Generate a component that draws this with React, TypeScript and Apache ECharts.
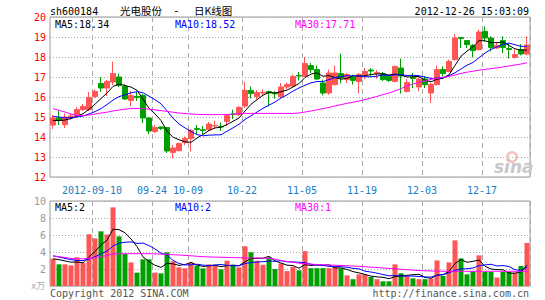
import React, { useEffect, useRef } from "react";
import * as echarts from "echarts";

const dates = [
  "2012-08-30","2012-08-31",
  "2012-09-03","2012-09-04","2012-09-05","2012-09-06","2012-09-07",
  "2012-09-10","2012-09-11","2012-09-12","2012-09-13","2012-09-14",
  "2012-09-17","2012-09-18","2012-09-19","2012-09-20","2012-09-21",
  "2012-09-24","2012-09-25","2012-09-26","2012-09-27","2012-09-28",
  "2012-10-08","2012-10-09","2012-10-10","2012-10-11","2012-10-12",
  "2012-10-15","2012-10-16","2012-10-17","2012-10-18","2012-10-19",
  "2012-10-22","2012-10-23","2012-10-24","2012-10-25","2012-10-26",
  "2012-10-29","2012-10-30","2012-10-31","2012-11-01","2012-11-02",
  "2012-11-05","2012-11-06","2012-11-07","2012-11-08","2012-11-09",
  "2012-11-12","2012-11-13","2012-11-14","2012-11-15","2012-11-16",
  "2012-11-19","2012-11-20","2012-11-21","2012-11-22","2012-11-23",
  "2012-11-26","2012-11-27","2012-11-28","2012-11-29","2012-11-30",
  "2012-12-03","2012-12-04","2012-12-05","2012-12-06","2012-12-07",
  "2012-12-10","2012-12-11","2012-12-12","2012-12-13","2012-12-14",
  "2012-12-17","2012-12-18","2012-12-19","2012-12-20","2012-12-21",
  "2012-12-24","2012-12-25","2012-12-26",
];

const tickDates = ["2012-09-10","2012-09-24","2012-10-09","2012-10-22","2012-11-05","2012-11-19","2012-12-03","2012-12-17"];

const opens = [
  14.6,14.95,14.62,14.95,15.08,15.37,15.37,16.03,16.68,16.45,
  16.75,17.0,16.53,15.83,16.03,16.08,14.95,14.27,14.5,14.47,
  13.23,13.32,13.72,13.93,14.42,14.36,14.37,14.55,14.53,14.78,
  15.15,15.12,15.55,16.33,16.02,16.2,16.27,16.2,16.02,16.5,
  16.55,17.08,17.03,17.57,17.37,16.7,16.2,16.62,17.17,16.87,
  17.0,16.78,17.12,17.35,17.18,17.17,17.03,16.78,17.45,16.28,
  16.98,16.5,16.9,16.2,16.62,17.37,17.28,17.87,18.97,18.82,
  18.58,18.37,19.28,18.95,18.45,18.82,18.42,17.98,18.37,18.15,
];
const closes = [
  14.95,14.85,15.0,15.05,15.37,15.53,15.98,16.28,16.45,16.77,
  17.17,16.57,15.9,16.07,15.98,14.95,14.3,14.47,14.43,13.3,
  13.45,13.67,13.92,14.33,14.38,14.33,14.65,14.58,14.5,15.07,
  15.12,15.48,16.33,16.18,16.22,16.24,16.2,16.16,16.5,16.62,
  17.03,17.05,17.67,17.37,16.9,16.2,17.2,17.2,16.95,17.12,
  16.83,17.12,17.28,17.3,17.22,16.87,16.83,17.53,17.05,16.72,
  16.93,16.9,16.62,16.62,17.37,17.17,17.78,18.95,18.93,18.62,
  18.32,19.25,18.95,18.48,18.58,18.48,18.38,18.12,18.15,18.6,
];
const lows = [
  14.4,14.6,14.45,14.88,15.0,15.3,15.3,15.95,16.25,16.05,
  16.6,16.5,15.85,15.55,15.8,14.7,14.15,14.2,14.35,13.2,
  12.93,13.28,13.6,13.27,14.15,14.15,14.3,14.4,14.3,14.55,
  14.9,15.05,15.45,15.93,15.88,16.1,15.53,15.92,15.95,16.4,
  16.5,16.83,17.0,17.2,16.87,16.08,16.12,16.57,16.68,16.7,
  16.62,16.18,16.9,17.03,16.92,16.8,16.75,16.73,16.17,16.23,
  16.45,16.28,16.45,15.7,16.57,17.03,17.23,17.82,18.45,18.45,
  17.98,18.32,18.75,18.28,18.42,18.2,17.92,17.92,18.08,18.08,
];
const highs = [
  15.1,15.3,15.18,15.15,15.5,15.65,16.25,16.38,17.0,16.85,
  17.77,17.17,16.65,16.3,16.25,16.15,15.0,14.6,14.52,14.5,
  13.6,13.72,14.02,14.4,14.6,14.55,14.75,14.82,14.72,15.15,
  15.37,15.55,16.77,16.52,16.35,16.38,16.32,16.3,16.7,16.72,
  17.12,17.25,18.0,17.7,17.57,16.87,17.37,17.57,18.17,17.2,
  17.12,17.2,17.45,17.45,17.35,17.25,17.1,17.57,17.92,16.9,
  17.2,17.0,17.03,16.7,17.57,17.53,17.87,19.15,18.99,18.83,
  18.65,19.37,19.53,19.03,18.75,19.03,18.65,18.37,18.65,19.03,
];

// volume, in 10,000 lots (万)
const volumes = [
  3.2,2.55,2.55,2.43,3.37,2.75,6.08,5.6,6.43,6.04,
  9.25,5.84,3.76,2.78,1.57,3.14,3.14,1.57,1.49,3.96,
  2.9,2.2,2.08,2.75,2.4,2.08,2.55,2.4,1.96,2.98,
  2.4,2.2,4.67,3.96,2.98,2.5,3.37,2.0,2.65,1.75,
  2.25,1.85,4.1,2.1,2.1,2.1,2.1,2.25,2.05,1.25,
  0.8,1.37,1.33,1.06,0.8,0.55,0.55,2.55,1.5,1.14,
  0.9,0.8,0.8,0.86,3.0,1.18,2.78,5.37,3.25,1.37,
  1.73,3.6,1.65,1.65,1.0,1.65,1.65,1.57,2.35,5.06,
];

// moving-average values before enough history is on screen
const ma5Lead = [14.83, 14.82, 14.85, 14.92];
const ma10Lead = [15.03, 15.0, 14.96, 14.96, 15.0, 15.05, 15.15, 15.27, 15.42];
const ma30 = [
  15.42,15.33,15.25,15.15,15.08,15.06,15.1,15.15,15.2,15.24,
  15.3,15.35,15.39,15.42,15.43,15.42,15.39,15.36,15.32,15.28,
  15.24,15.2,15.17,15.15,15.13,15.12,15.12,15.12,15.12,15.12,
  15.14,15.17,15.18,15.18,15.18,15.18,15.18,15.18,15.18,15.18,
  15.18,15.2,15.25,15.3,15.36,15.42,15.48,15.55,15.62,15.68,
  15.74,15.8,15.87,15.95,16.03,16.12,16.2,16.3,16.42,16.55,
  16.65,16.74,16.8,16.88,16.93,16.98,17.03,17.1,17.18,17.24,
  17.29,17.34,17.38,17.42,17.46,17.5,17.55,17.6,17.65,17.71,
];
const volMa5Lead = [3.2, 3.1, 2.95, 2.8];
const volMa10Lead = [3.55, 3.4, 3.25, 3.1, 3.0, 3.0, 3.15, 3.45, 3.8];
const volMa30 = [
  3.55,3.45,3.35,3.25,3.2,3.2,3.25,3.35,3.45,3.6,
  3.75,3.78,3.8,3.8,3.8,3.8,3.8,3.78,3.75,3.72,
  3.68,3.65,3.6,3.55,3.5,3.45,3.42,3.4,3.38,3.36,
  3.34,3.32,3.3,3.3,3.3,3.28,3.25,3.15,3.0,2.88,
  2.78,2.68,2.62,2.57,2.53,2.5,2.47,2.44,2.41,2.38,
  2.35,2.31,2.27,2.22,2.17,2.12,2.07,2.02,1.97,1.92,
  1.87,1.82,1.79,1.77,1.75,1.73,1.73,1.73,1.73,1.73,
  1.73,1.73,1.73,1.73,1.73,1.73,1.73,1.73,1.73,1.73,
];

const mainLegend = ["MA5:18.34", "MA10:18.52", "MA30:17.71"];
const volLegend = ["MA5:2", "MA10:2", "MA30:1"];
const stockCode = "sh600184";
const titleParts = ["光电股份", "-", "日K线图"];
const timeStamp = "2012-12-26 15:03:09";

const UP = "#FF5555";
const DOWN = "#009F00";
const MONO = "'DejaVu Sans Mono', monospace";
const CJK = "'Noto Sans CJK SC', sans-serif";
const GRID_GRAY = "#a8a8a8";

function movingAverage(values: number[], n: number, lead: number[]): number[] {
  return values.map((_, i) => {
    if (i < n - 1) return lead[i];
    let s = 0;
    for (let k = i - n + 1; k <= i; k++) s += values[k];
    return Math.round((s / n) * 1000) / 1000;
  });
}

export default function App() {
  const ref = useRef<HTMLDivElement>(null);

  useEffect(() => {
    if (!ref.current) return;
    const chart = echarts.init(ref.current, undefined, { renderer: "svg" });

    const candleData = dates.map((_, i) => [opens[i], closes[i], lows[i], highs[i]]);
    const volData = volumes.map((v, i) => ({
      value: v,
      itemStyle: { color: closes[i] >= opens[i] ? UP : DOWN },
    }));
    const ma5 = movingAverage(closes, 5, ma5Lead);
    const ma10 = movingAverage(closes, 10, ma10Lead);
    const vma5 = movingAverage(volumes, 5, volMa5Lead);
    const vma10 = movingAverage(volumes, 10, volMa10Lead);

    const isTick = (_i: number, v: string) => tickDates.includes(v);

    const catAxis = (gridIndex: number, showLabel: boolean) => ({
      type: "category",
      gridIndex,
      data: dates,
      boundaryGap: true,
      axisLine: { show: false },
      axisTick: { show: false, interval: isTick },
      axisLabel: {
        show: showLabel,
        interval: isTick,
        formatter: (v: string) => (v === tickDates[0] ? v : v.slice(5)),
        color: "#1B7CC4",
        fontFamily: MONO,
        fontSize: 10,
        margin: 8,
        padding: [0, 6, 0, 0],
      },
      splitLine: {
        show: true,
        interval: isTick,
        lineStyle: { color: GRID_GRAY, width: 1, type: [5, 4] },
      },
    });

    const lineSeries = (name: string, data: number[], color: string, axisIdx: number) => ({
      name,
      type: "line",
      xAxisIndex: axisIdx,
      yAxisIndex: axisIdx,
      data,
      symbol: "none",
      smooth: false,
      lineStyle: { color, width: 1 },
      z: 5,
    });

    const text = (t: string, x: number, y: number, fill: string, extra: any = {}) => ({
      type: "text",
      x,
      y,
      z: 100,
      style: {
        text: t,
        fill,
        fontFamily: MONO,
        fontSize: 10,
        textAlign: "left",
        textVerticalAlign: "middle",
        ...extra,
      },
    });

    chart.setOption({
      animation: false,
      backgroundColor: "#ffffff",
      grid: [
        { left: 50, top: 17, width: 480, height: 160, show: true, borderColor: "#999", borderWidth: 1 },
        { left: 50, top: 201, width: 480, height: 85, show: true, borderColor: "#999", borderWidth: 1 },
      ],
      xAxis: [catAxis(0, true), catAxis(1, false)],
      yAxis: [
        {
          type: "value",
          gridIndex: 0,
          min: 12,
          max: 20,
          interval: 1,
          axisLine: { show: false },
          axisTick: { show: false },
          axisLabel: { color: "#FF0000", fontFamily: MONO, fontSize: 10, margin: 4 },
          splitLine: { show: true, lineStyle: { color: GRID_GRAY, width: 1, type: [1, 2] } },
        },
        {
          type: "value",
          gridIndex: 1,
          min: 0,
          max: 10,
          interval: 2,
          axisLine: { show: false },
          axisTick: { show: false },
          axisLabel: {
            color: "#999",
            fontFamily: MONO,
            fontSize: 10,
            margin: 4,
            formatter: (v: number) => (v === 0 ? "" : String(v)),
          },
          splitLine: { show: true, lineStyle: { color: GRID_GRAY, width: 1, type: [1, 2] } },
        },
      ],
      series: [
        {
          name: "K",
          type: "candlestick",
          xAxisIndex: 0,
          yAxisIndex: 0,
          data: candleData,
          barWidth: 5,
          itemStyle: {
            color: UP,
            color0: DOWN,
            borderColor: UP,
            borderColor0: DOWN,
            borderWidth: 1,
          },
          z: 3,
        },
        lineSeries("MA5", ma5, "#000000", 0),
        lineSeries("MA10", ma10, "#0000FF", 0),
        lineSeries("MA30", ma30, "#FF00FF", 0),
        {
          name: "VOL",
          type: "bar",
          xAxisIndex: 1,
          yAxisIndex: 1,
          data: volData,
          barWidth: 5,
          z: 3,
        },
        lineSeries("VMA5", vma5, "#000000", 1),
        lineSeries("VMA10", vma10, "#0000FF", 1),
        lineSeries("VMA30", volMa30, "#FF00FF", 1),
      ],
      graphic: [
        text(stockCode, 50, 11, "#000"),
        text(titleParts[0], 120, 10, "#000", { fontFamily: CJK, fontSize: 10.5 }),
        text(titleParts[1], 173, 10, "#000", { fontSize: 11 }),
        text(titleParts[2], 194, 10, "#000", { fontFamily: CJK, fontSize: 10.5 }),
        text(timeStamp, 529, 11, "#000", { textAlign: "right" }),
        text(mainLegend[0], 55, 24, "#000"),
        text(mainLegend[1], 175, 24, "#0000FF"),
        text(mainLegend[2], 295, 24, "#FF00FF"),
        text(volLegend[0], 55, 207, "#000"),
        text(volLegend[1], 175, 207, "#0000FF"),
        text(volLegend[2], 295, 207, "#FF00FF"),
        text("x万", 31, 286, "#aaa", {
          fontFamily: "'DejaVu Sans', 'Noto Sans CJK SC', sans-serif",
          fontSize: 9,
        }),
        text("Copyright 2012 SINA.COM", 50, 293, "#555"),
        text("http://finance.sina.com.cn", 529, 293, "#555", { textAlign: "right" }),
        {
          type: "ring",
          z: 1,
          shape: { cx: 512, cy: 157, r: 6, r0: 3.5 },
          style: { fill: "#F6C0C0" },
        },
        text("sina", 494, 167, "#c8c8c8", {
          fontFamily: "'DejaVu Sans', sans-serif",
          fontSize: 17,
          fontWeight: "bold",
          fontStyle: "italic",
        }),
      ],
    });

    return () => chart.dispose();
  }, []);

  return (
    <div
      ref={ref}
      style={{ position: "fixed", left: 0, top: 0, width: 545, height: 300, background: "#fff" }}
    />
  );
}
